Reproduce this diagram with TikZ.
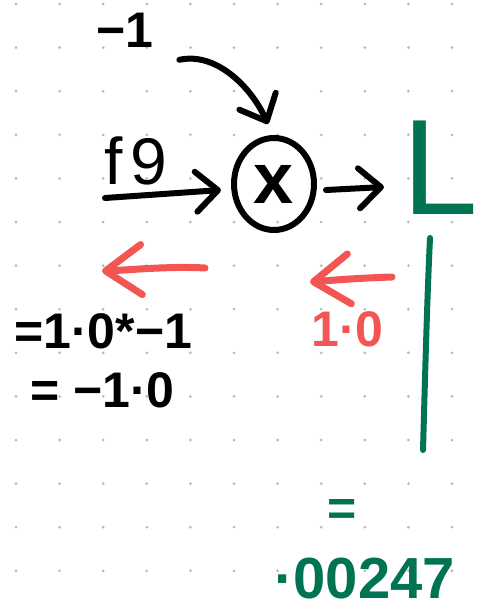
\documentclass[tikz,border=0pt]{standalone}
\usepackage{fontspec}
\setmainfont{Liberation Sans}
\usetikzlibrary{arrows.meta,shapes.geometric}
\definecolor{gr}{RGB}{0,116,82}
\definecolor{rd}{RGB}{242,85,82}
\definecolor{dotc}{RGB}{185,185,185}
\tikzset{
  hand/.style={text=black, font=\bfseries\fontsize{50}{50}\selectfont, inner sep=0pt},
  ink/.style={line width=6pt, line cap=round, line join=round},
  blk/.style={ink, -{Straight Barb[length=22pt,width=40pt,line width=6pt,round]}},
  red/.style={line width=7pt, line cap=round, line join=round, rd,
     -{Straight Barb[length=36pt,width=50pt,line width=7pt,round]}}
}
\begin{document}
\begin{tikzpicture}[x=1pt,y=-1pt]
\useasboundingbox (0,0) rectangle (477,614);
\fill[white] (0,0) rectangle (477,614);
\foreach \i in {0,...,10}{\foreach \j in {0,...,13}{\fill[dotc] (16+43.6*\i,4+43.6*\j) circle (1.5);}}
% nodes
\node[hand, anchor=base west] (m1) at (96,47) {−1};
\node[text=black, font=\fontsize{66}{66}\selectfont, inner sep=0pt, anchor=base west] (f9) at (104,184) {f\hspace{8pt}9};
\node[draw, ellipse, line width=6pt, minimum width=80pt, minimum height=92pt, inner sep=0pt] (mul) at (274,184) {};
\node[font=\bfseries\fontsize{72}{72}\selectfont, inner sep=0pt] (xs) at (mul) {x};
\node[text=gr, font=\fontsize{136}{136}\selectfont, inner sep=0pt] (L) at (440,168) {L};
\node[hand, anchor=base west] (g1) at (14,348) {=1·0*−1};
\node[hand, anchor=base west] (g2) at (30,407) {= −1·0};
\node[hand, text=rd, anchor=base west] (g3) at (311,346) {1·0};
\node[hand, text=gr] (eq) at (342,512) {=};
\node[hand, text=gr, font=\bfseries\fontsize{58}{58}\selectfont, anchor=base west] (val) at (274,598) {·00247};
% coordinates
\coordinate (fin) at (105,198);
\coordinate (r1s) at (205,268);
\coordinate (r1e) at (102,271);
\coordinate (r2s) at (392,277);
\coordinate (r2e) at (310,282);
\coordinate (gend) at (423,450);
% connectors
\draw[blk] ([shift={(26,30)}]m1.east) .. controls (215,52) and (250,85) .. ([shift={(-6,-11)}]mul.north);
\draw[blk] (fin) -- ([shift={(-10,6)}]mul.west);
\draw[blk] ([shift={(9,6)}]mul.east) -- ([shift={(-18,19)}]L.west);
\draw[red] (r1s) .. controls (170,266) and (130,270) .. (r1e);
\draw[red] (r2s) .. controls (360,278) and (335,280) .. (r2e);
\draw[gr, line width=6pt, line cap=round] ([shift={(-10,23)}]L.south) .. controls (427,300) and (425,380) .. (gend);
\end{tikzpicture}
\end{document}
